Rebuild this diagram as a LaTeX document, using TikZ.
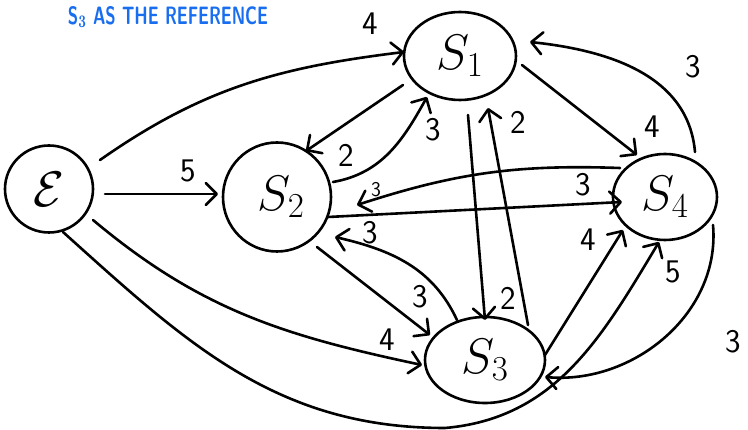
\RequirePackage{fix-cm}
\documentclass[tikz,border=0pt]{standalone}
\usetikzlibrary{arrows.meta,shapes.geometric,calc}
\definecolor{penblue}{RGB}{25,110,240}
\begin{document}
\begin{tikzpicture}[x=1pt,y=1pt,
  line width=2.6pt, line cap=round, line join=round,
  st/.style={draw, ellipse, inner sep=0pt, line width=2.6pt},
  arr/.style={-{Straight Barb[length=11pt,width=22pt,round]}},
  wt/.style={font=\sffamily\fontsize{33}{33}\selectfont, inner sep=0pt},
  wts/.style={font=\sffamily\fontsize{21}{21}\selectfont, inner sep=0pt},
  stt/.style={font=\fontsize{50}{50}\selectfont},
]
\useasboundingbox (0,0) rectangle (748,-430);

% title
\node[text=penblue, inner sep=0pt] (title) at (168,-17)
  {\resizebox{200pt}{18pt}{\sffamily\bfseries S$_{\mathbf 3}$ AS THE REFERENCE}};

% states
\node[st, stt, minimum width=88pt, minimum height=87pt] (E) at (49,-189)
  {$\mathcal{E}$};
\node[st, stt, minimum width=112pt, minimum height=88pt] (S1) at (460,-56)
  {$S_{1}$};
\node[st, stt, minimum width=108pt, minimum height=109pt] (S2) at (277,-197)
  {\hspace{8pt}$S_{2}$};
\node[st, stt, minimum width=120pt, minimum height=86pt] (S3) at (485,-360)
  {$S_{3}$};
\node[st, stt, minimum width=104pt, minimum height=86pt] (S4) at (665,-197)
  {$S_{4}$};

\coordinate (bot) at (445,-428);

% connectors
\draw[arr] ($(E)+(51,29)$) to[out=35,in=187] ($(S1)+(-56,4)$);
\draw[arr] ($(E)+(56,-5)$) -- ($(S2)+(-59,3)$);
\draw[arr] ($(E)+(44,-31)$) to[out=-40,in=168] ($(S3)+(-63,-5)$);
\draw[arr] ($(E)+(14,-43)$) to[out=-42,in=180] (bot) to[out=5,in=239] ($(S4)+(-6,-45)$);
\draw[arr] ($(S1)+(-57,-29)$) -- ($(S2)+(29,46)$);
\draw[arr] ($(S2)+(56,15)$) to[out=10,in=241] ($(S1)+(-33,-41)$);
\draw[arr] ($(S1)+(8,-59)$) -- ($(S3)+(0,40)$);
\draw[arr] ($(S3)+(43,35)$) -- ($(S1)+(28,-52)$);
\draw[arr] ($(S1)+(62,-9)$) -- ($(S4)+(-28,42)$);
\draw[arr] ($(S4)+(30,45)$) to[out=95,in=354] ($(S1)+(70,14)$);
\draw[arr] ($(S4)+(-45,29)$) to[out=178,in=18] ($(S2)+(80,-8)$);
\draw[arr] ($(S2)+(51,-20)$) -- ($(S4)+(-43,-5)$);
\draw[arr] ($(S2)+(40,-50)$) -- ($(S3)+(-55,25)$);
\draw[arr] ($(S3)+(-28,40)$) to[out=115,in=347] ($(S2)+(58,-40)$);
\draw[arr] ($(S3)+(60,5)$) -- ($(S4)+(-42,-33)$);
\draw[arr] ($(S4)+(48,-28)$) to[out=-85,in=355] ($(S3)+(60,-17)$);

% weights
\node[wt] (l1) at (370,-24) {4};
\node[wt] (l2) at (188,-171) {5};
\node[wt] (l3) at (387,-340) {4};
\node[wt] (l4) at (673,-272) {5};
\node[wt] (l5) at (346,-155) {2};
\node[wt] (l6) at (433,-130) {3};
\node[wt] (l7) at (508,-298) {2};
\node[wt] (l8) at (518,-122) {2};
\node[wt] (l9) at (652,-127) {4};
\node[wt] (l10) at (693,-67) {3};
\node[wts] (l11) at (376,-190) {3};
\node[wt] (l12) at (583,-185) {3};
\node[wt] (l13) at (420,-297) {3};
\node[wt] (l14) at (370,-233) {3};
\node[wt] (l15) at (588,-240) {4};
\node[wt] (l16) at (733,-342) {3};
\end{tikzpicture}
\end{document}
